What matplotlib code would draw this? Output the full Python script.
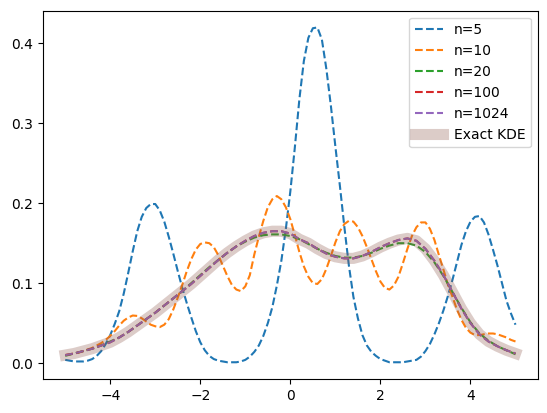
import numpy as np
import matplotlib
matplotlib.use("Agg")
import matplotlib.pyplot as plt

# evaluation points (fine grid for the wiggly low-order curves)
x_fine = np.round(np.arange(-5.0, 5.0001, 0.1), 1)
x_coarse = np.round(np.arange(-5.0, 5.0001, 0.2), 1)

# n=5 terms (on x_fine)
n5_vals = [0.004, 0.003, 0.002, 0.002, 0.002, 0.003, 0.005, 0.009, 0.015, 0.024,
           0.035, 0.049, 0.065, 0.087, 0.113, 0.140, 0.165, 0.183, 0.194, 0.199,
           0.199, 0.191, 0.177, 0.158, 0.137, 0.115, 0.094, 0.075, 0.057, 0.040,
           0.026, 0.016, 0.009, 0.005, 0.003, 0.002, 0.001, 0.001, 0.001, 0.002,
           0.004, 0.008, 0.014, 0.022, 0.034, 0.050, 0.070, 0.097, 0.128, 0.168,
           0.215, 0.270, 0.330, 0.378, 0.407, 0.419, 0.420, 0.405, 0.368, 0.322,
           0.271, 0.222, 0.170, 0.122, 0.083, 0.056, 0.035, 0.022, 0.014, 0.009,
           0.005, 0.003, 0.001, 0.001, 0.001, 0.001, 0.002, 0.003, 0.004, 0.008,
           0.015, 0.024, 0.036, 0.050, 0.066, 0.084, 0.104, 0.126, 0.148, 0.165,
           0.177, 0.183, 0.184, 0.176, 0.161, 0.142, 0.122, 0.100, 0.078, 0.062,
           0.048]

# n=10 terms (on x_fine)
n10_vals = [0.010, 0.011, 0.012, 0.013, 0.015, 0.017, 0.019, 0.022, 0.025, 0.029,
            0.034, 0.040, 0.047, 0.053, 0.057, 0.0595, 0.059, 0.056, 0.052, 0.048,
            0.046, 0.045, 0.048, 0.055, 0.067, 0.082, 0.098, 0.115, 0.130, 0.142,
            0.149, 0.151, 0.150, 0.145, 0.135, 0.122, 0.109, 0.098, 0.092, 0.090,
            0.096, 0.110, 0.136, 0.158, 0.178, 0.195, 0.205, 0.209, 0.205, 0.195,
            0.180, 0.160, 0.139, 0.121, 0.108, 0.100, 0.099, 0.105, 0.118, 0.134,
            0.151, 0.165, 0.174, 0.178, 0.177, 0.170, 0.159, 0.145, 0.130, 0.115,
            0.102, 0.094, 0.092, 0.097, 0.108, 0.125, 0.143, 0.159, 0.170, 0.176,
            0.176, 0.168, 0.154, 0.135, 0.117, 0.098, 0.083, 0.067, 0.054, 0.044,
            0.038, 0.035, 0.035, 0.036, 0.037, 0.037, 0.036, 0.034, 0.032, 0.029,
            0.027]

# n=20 terms (on x_coarse)
n20_vals = [0.009, 0.012, 0.015, 0.018, 0.022, 0.027, 0.032, 0.039, 0.047, 0.055,
            0.063, 0.072, 0.081, 0.090, 0.100, 0.110, 0.120, 0.129, 0.138, 0.146,
            0.152, 0.157, 0.160, 0.161, 0.161, 0.159, 0.155, 0.149, 0.143, 0.138,
            0.134, 0.132, 0.132, 0.134, 0.138, 0.143, 0.147, 0.150, 0.150, 0.147,
            0.139, 0.126, 0.109, 0.089, 0.069, 0.051, 0.037, 0.028, 0.021, 0.016,
            0.011]

# exact KDE (on x_coarse)
kde_vals = [0.010, 0.012, 0.015, 0.018, 0.022, 0.026, 0.032, 0.039, 0.047, 0.055,
            0.063, 0.072, 0.081, 0.090, 0.099, 0.109, 0.119, 0.129, 0.138, 0.146,
            0.153, 0.159, 0.163, 0.165, 0.165, 0.162, 0.155, 0.150, 0.143, 0.137,
            0.133, 0.131, 0.131, 0.134, 0.139, 0.145, 0.150, 0.154, 0.156, 0.153,
            0.143, 0.128, 0.110, 0.089, 0.068, 0.050, 0.036, 0.027, 0.021, 0.016,
            0.012]

# n=100 and n=1024 sit on top of the exact curve
n100_vals = list(kde_vals)
n1024_vals = list(kde_vals)

series = [("n=5", x_fine, n5_vals), ("n=10", x_fine, n10_vals),
          ("n=20", x_coarse, n20_vals), ("n=100", x_coarse, n100_vals),
          ("n=1024", x_coarse, n1024_vals)]

fig = plt.figure(figsize=(5.47, 4.13), dpi=100)
ax = fig.add_axes([42.7 / 547, 1 - 379 / 413, (538 - 42.7) / 547, (379 - 10.7) / 413])

for label, xs, vals in series:
    ax.plot(xs, vals, "--", label=label)

ax.plot(x_coarse, kde_vals, color="C5", lw=8, alpha=0.3, label="Exact KDE")
ax.legend(loc="upper right")

fig.savefig("out.png", dpi=100)
